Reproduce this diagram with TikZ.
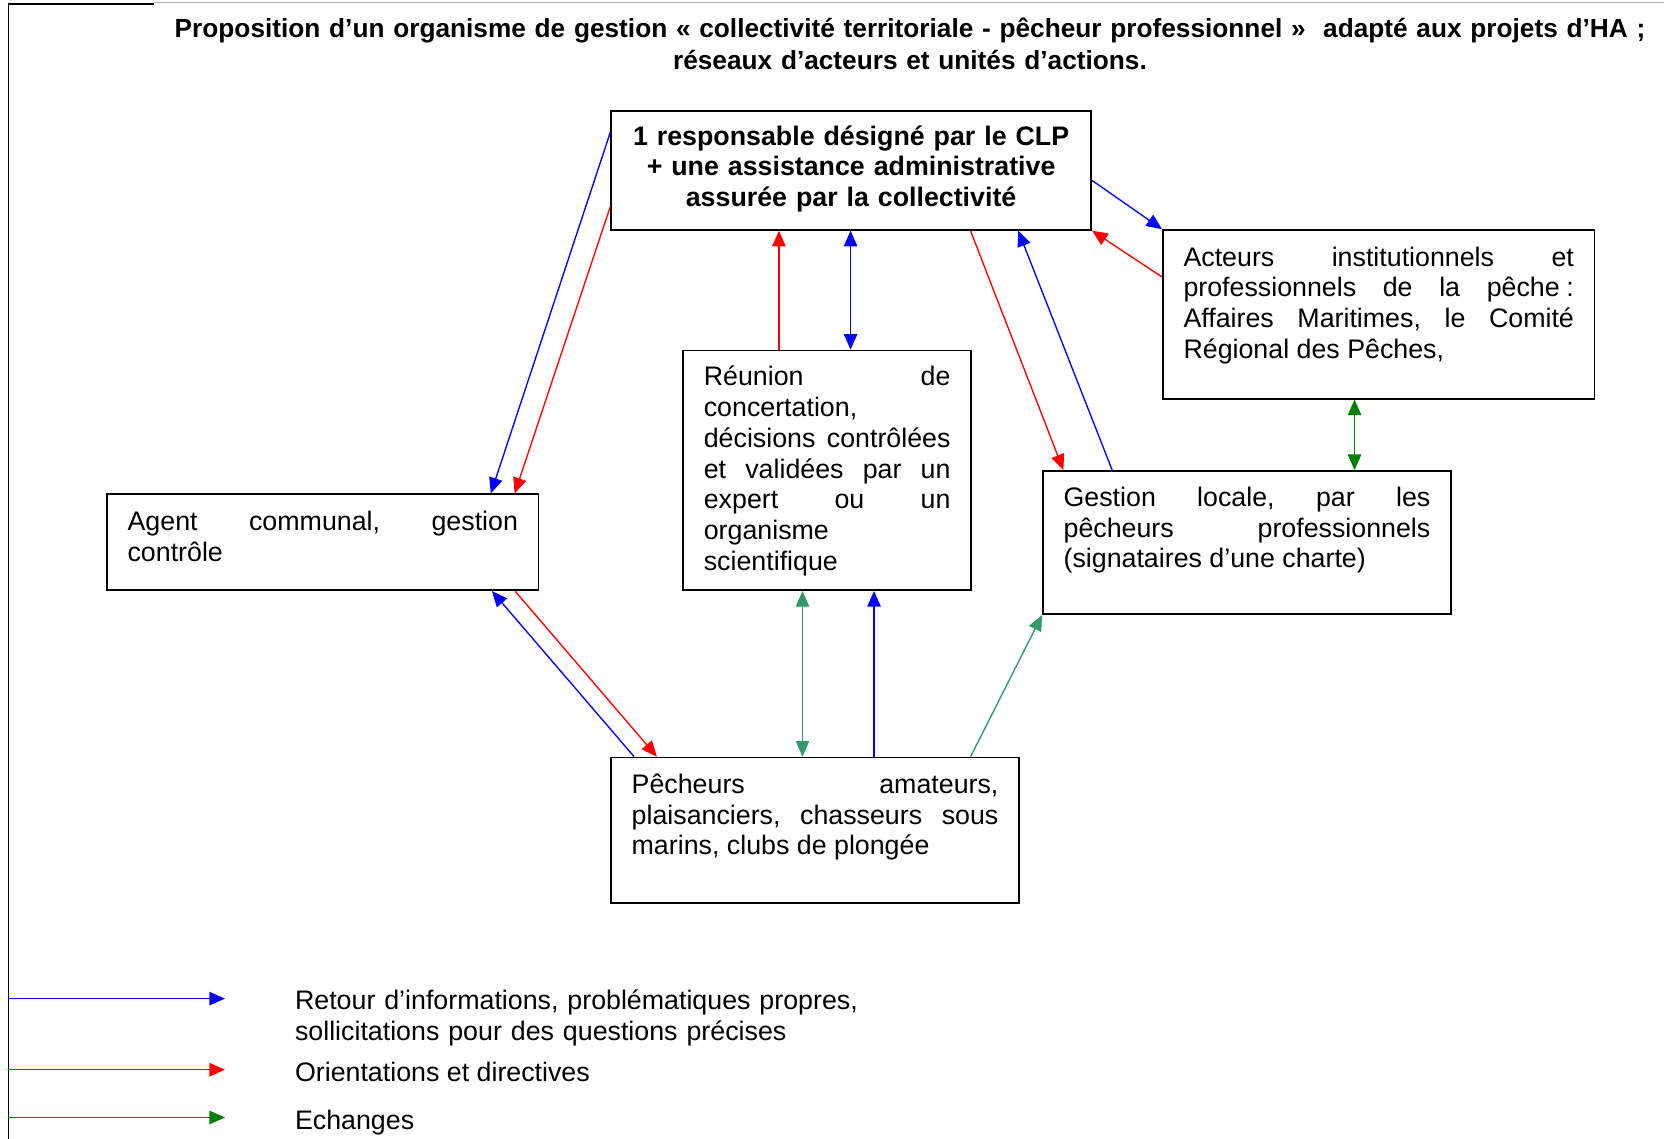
\documentclass[tikz,border=0pt]{standalone}
\usepackage{fontspec}
\setmainfont{Liberation Sans}
\usepackage{tikz}
\usetikzlibrary{arrows.meta,calc}
\definecolor{echgreen}{RGB}{0,128,0}
\definecolor{seagreen}{RGB}{51,153,102}
\newcommand{\txtsize}{\fontsize{12pt}{13.75pt}\selectfont}
\newcommand{\titlesize}{\fontsize{11.75pt}{14.3pt}\selectfont}
\tikzset{
  box/.style    = {draw,line width=0.7pt,anchor=north west,inner xsep=9.27pt,inner ysep=0pt,align=justify},
  arr/.style    = {-{Triangle[length=7pt,width=6pt]},line width=0.6pt},
  dblarr/.style = {{Triangle[length=7pt,width=6pt]}-{Triangle[length=7pt,width=6pt]},line width=0.6pt},
  legtext/.style = {anchor=base west,inner sep=0pt}
}

\begin{document}
\begin{tikzpicture}[x=0.4754pt,y=-0.4754pt,font=\txtsize]
  \useasboundingbox (0,0) rectangle (1568,1073);
  \draw[gray!60,line width=0.6pt] (145,2.5) -- (1568,2.5);
  \draw[line width=0.8pt] (8,3.5) -- (145,3.5);
  \draw[line width=0.7pt] (8,3.5) -- (8,1073);
  \node[font=\titlesize\bfseries,text width=720pt,align=center,anchor=base] (titre) at (857.5,35)
    {Proposition d’un organisme de gestion « collectivité territoriale - pêcheur professionnel » \ adapté aux projets d’HA ;\\réseaux d’acteurs et unités d’actions.};
  \node[box,font=\txtsize\bfseries,align=center,text width=196.6pt,text height=15.2pt,text depth=38.0pt] (resp) at (575,104)
    {1 responsable désigné par le CLP\\+ une assistance administrative\\assurée par la collectivité};
  \node[box,text width=174.9pt,text height=16.2pt,text depth=59.4pt] (acteurs) at (1095,216)
    {Acteurs\hfill institutionnels\hfill et\\professionnels\hfill de\hfill la\hfill pêche\kern3pt:\\Affaires\hfill Maritimes,\hfill le\hfill Comité\\Régional des Pêches,};
  \node[box,text width=110.5pt,text height=15.9pt,text depth=91.5pt] (reunion) at (643,329.5)
    {Réunion\hfill de\\concertation,\\décisions\hfill contrôlées\\et\hfill validées\hfill par\hfill un\\expert\hfill ou\hfill un\\organisme\\scientifique};
  \node[box,text width=164.3pt,text height=15.9pt,text depth=48.3pt] (gestion) at (982,443)
    {Gestion\hfill locale,\hfill par\hfill les\\pêcheurs\hfill professionnels\\(signataires d’une charte)};
  \node[box,text width=174.9pt,text height=16.4pt,text depth=26.6pt] (agent) at (100,465)
    {Agent\hfill communal,\hfill gestion\\contrôle};
  \node[box,text width=164.3pt,text height=16.2pt,text depth=49.0pt] (pecheurs) at (575,713)
    {Pêcheurs\hfill amateurs,\\plaisanciers,\hfill chasseurs\hfill sous\\marins, clubs de plongée};

  \draw[arr,blue] ($(resp.north west)+(0,21)$) -- ($(agent.north west)+(362.5,0)$);
  \draw[arr,red]  ($(resp.north west)+(0,91)$) -- ($(agent.north west)+(385,0)$);
  \draw[arr,blue] ($(resp.north east)+(0,66)$) -- (acteurs.north west);
  \draw[arr,red]  ($(acteurs.north west)+(0,45)$) -- (resp.south east);
  \draw[arr,red]  ($(reunion.north west)+(91,0)$) -- ($(resp.south west)+(159,0)$);
  \draw[dblarr,blue] ($(resp.south west)+(226.5,0)$) -- ($(reunion.north west)+(158.5,0)$);
  \draw[arr,red]  ($(resp.south west)+(339.5,0)$) -- ($(gestion.north west)+(20,0)$);
  \draw[arr,blue] ($(gestion.north west)+(66,0)$) -- ($(resp.south west)+(384.5,0)$);
  \draw[dblarr,echgreen] ($(acteurs.south west)+(181.4,0)$) -- ($(gestion.north west)+(294.4,0)$);
  \draw[arr,blue] ($(pecheurs.north west)+(22.5,0)$) -- ($(agent.south west)+(363.5,0)$);
  \draw[arr,red]  ($(agent.south west)+(385.3,0)$) -- ($(pecheurs.north west)+(44,0)$);
  \draw[dblarr,seagreen,line width=0.4pt] ($(reunion.south west)+(113.2,0)$) -- ($(pecheurs.north west)+(181.2,0)$);
  \draw[arr,blue] ($(pecheurs.north west)+(248.6,0)$) -- ($(reunion.south west)+(180.6,0)$);
  \draw[arr,seagreen] ($(pecheurs.north west)+(339.6,0)$) -- (gestion.south west);

  \coordinate (info0) at (8,941);
  \coordinate (info1) at (212,941);
  \coordinate (ori0) at (8,1008);
  \coordinate (ori1) at (212,1008);
  \coordinate (ech0) at (8,1053);
  \coordinate (ech1) at (212,1053);
  \draw[arr,blue] (info0) -- (info1);
  \draw[arr,red] (ori0) -- (ori1);
  \draw[arr,echgreen] (ech0) -- (ech1);
  \node[legtext,text width=300pt,align=left,font=\fontsize{12pt}{14pt}\selectfont] (leginfo) at (277.6,951)
    {Retour d’informations, problématiques propres,\\sollicitations pour des questions précises};
  \node[legtext] (legori) at (277.6,1019) {Orientations et directives};
  \node[legtext] (legech) at (277.6,1064) {Echanges};
\end{tikzpicture}
\end{document}
